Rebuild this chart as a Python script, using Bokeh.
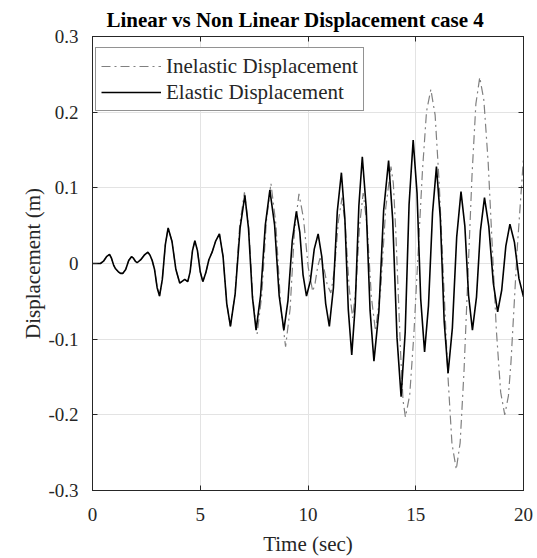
from bokeh.plotting import figure
from bokeh.models import LinearAxis, FixedTicker, Legend, LegendItem
from bokeh.embed import file_html
from bokeh.resources import INLINE

# ---- data ----
elastic_t = [0.0, 0.37, 0.51, 0.65, 0.79, 0.88, 0.98, 1.07, 1.2, 1.3, 1.41, 1.54, 1.68, 1.81,
             1.90, 1.99, 2.07, 2.24, 2.40, 2.57, 2.67, 2.77, 2.88, 3.0, 3.11, 3.24, 3.38, 3.51,
             3.69, 3.87, 4.05, 4.28, 4.42, 4.53, 4.64, 4.75, 4.87, 5.0, 5.12, 5.26, 5.40, 5.55,
             5.72, 5.89, 6.06, 6.23, 6.40, 6.62, 6.85, 7.07, 7.24, 7.42, 7.59, 7.80, 8.02, 8.23,
             8.45, 8.66, 8.88, 9.07, 9.27, 9.46, 9.62, 9.77, 9.93, 10.11, 10.29, 10.47, 10.64,
             10.82, 10.99, 11.18, 11.36, 11.55, 11.71, 11.87, 12.03, 12.19, 12.36, 12.52, 12.70,
             12.88, 13.06, 13.29, 13.51, 13.74, 13.93, 14.13, 14.32, 14.51, 14.69, 14.88, 15.06,
             15.23, 15.41, 15.59, 15.78, 15.96, 16.14, 16.32, 16.50, 16.70, 16.90, 17.10, 17.28,
             17.45, 17.63, 17.82, 18.0, 18.19, 18.39, 18.60, 18.80, 18.99, 19.18, 19.37, 19.58,
             19.79, 20.0]
elastic_v = [0.0, 0.0, 0.003, 0.009, 0.012, 0.007, -0.002, -0.007, -0.011, -0.013, -0.013, -0.008,
             0.004, 0.009, 0.007, 0.003, 0.001, 0.005, 0.011, 0.015, 0.011, 0.004, -0.008, -0.032,
             -0.043, -0.021, 0.025, 0.047, 0.029, -0.008, -0.026, -0.021, -0.024, -0.011, 0.017,
             0.030, 0.017, -0.011, -0.024, -0.012, 0.005, 0.015, 0.030, 0.039, 0.009, -0.053,
             -0.083, -0.040, 0.047, 0.090, 0.046, -0.044, -0.088, -0.042, 0.051, 0.097, 0.051,
             -0.042, -0.088, -0.049, 0.030, 0.069, 0.041, -0.015, -0.043, -0.023, 0.019, 0.039,
             0.009, -0.053, -0.083, -0.032, 0.069, 0.120, 0.060, -0.061, -0.121, -0.056, 0.076,
             0.141, 0.074, -0.062, -0.129, -0.063, 0.070, 0.136, 0.058, -0.098, -0.176, -0.091,
             0.078, 0.163, 0.093, -0.047, -0.117, -0.056, 0.067, 0.128, 0.060, -0.077, -0.145,
             -0.085, 0.035, 0.095, 0.049, -0.042, -0.088, -0.044, 0.043, 0.087, 0.049, -0.026,
             -0.064, -0.035, 0.023, 0.052, 0.028, -0.020, -0.044]

inelastic_t = [0.0, 0.37, 0.51, 0.65, 0.79, 0.88, 0.98, 1.07, 1.2, 1.3, 1.41, 1.54, 1.68, 1.81,
               1.90, 1.99, 2.07, 2.24, 2.40, 2.57, 2.67, 2.77, 2.88, 3.0, 3.11, 3.24, 3.38, 3.51,
               3.69, 3.87, 4.05, 4.28, 4.42, 4.53, 4.64, 4.75, 4.87, 5.0, 5.12, 5.26, 5.40, 5.55,
               5.72, 5.89, 6.06, 6.23, 6.40, 6.62, 6.83, 7.05, 7.25, 7.44, 7.64, 7.85, 8.07, 8.28,
               8.51, 8.73, 8.96, 9.17, 9.37, 9.58, 9.79, 10.01, 10.22, 10.33, 10.45, 10.56, 10.73,
               10.89, 11.06, 11.23, 11.41, 11.58, 11.74, 11.91, 12.07, 12.23, 12.40, 12.56, 12.75,
               12.94, 13.13, 13.37, 13.61, 13.85, 13.96, 14.07, 14.30, 14.41, 14.52, 14.72, 14.91,
               15.31, 15.50, 15.70, 15.90, 16.09, 16.49, 16.68, 16.88, 17.06, 17.24, 17.61, 17.79,
               17.97, 18.16, 18.36, 18.74, 18.94, 19.13, 19.30, 19.42, 19.71, 20.0]
inelastic_v = [0.0, 0.0, 0.003, 0.009, 0.012, 0.007, -0.002, -0.007, -0.011, -0.013, -0.013, -0.008,
               0.004, 0.009, 0.007, 0.003, 0.001, 0.005, 0.011, 0.015, 0.011, 0.004, -0.008, -0.032,
               -0.043, -0.021, 0.025, 0.047, 0.029, -0.008, -0.026, -0.021, -0.024, -0.011, 0.017,
               0.030, 0.017, -0.011, -0.024, -0.012, 0.005, 0.015, 0.030, 0.039, 0.009, -0.053,
               -0.083, -0.039, 0.050, 0.094, 0.047, -0.046, -0.093, -0.043, 0.056, 0.106, 0.052,
               -0.056, -0.110, -0.060, 0.042, 0.092, 0.060, -0.005, -0.037, -0.026, -0.004, 0.007,
               -0.005, -0.028, -0.039, -0.008, 0.056, 0.087, 0.047, -0.032, -0.072, -0.031, 0.052,
               0.093, 0.048, -0.044, -0.089, -0.035, 0.074, 0.128, 0.106, 0.045, -0.120, -0.181,
               -0.203, -0.174, -0.095, 0.122, 0.201, 0.230, 0.196, 0.105, -0.147, -0.238, -0.272,
               -0.237, -0.142, 0.116, 0.211, 0.246, 0.216, 0.134, -0.088, -0.170, -0.200, -0.175,
               -0.13, 0.02, 0.14]

x_ticks = [0, 5, 10, 15, 20]
x_tick_labels = ["0", "5", "10", "15", "20"]
y_ticks = [-0.3, -0.2, -0.1, 0, 0.1, 0.2, 0.3]
y_tick_labels = ["-0.3", "-0.2", "-0.1", "0", "0.1", "0.2", "0.3"]

FONT = "Liberation Serif"
AX = "#262626"

p = figure(width=537, height=558, x_range=(0, 20), y_range=(-0.3, 0.3),
           output_backend="svg", toolbar_location=None,
           min_border_left=92, min_border_right=14, min_border_top=35, min_border_bottom=67,
           x_axis_label="Time (sec)", y_axis_label="Displacement (m)")
p.background_fill_color = "white"
p.border_fill_color = "white"
p.outline_line_color = AX
p.outline_line_width = 1

p.title.text = "Linear vs Non Linear Displacement case 4"
p.title.text_font = FONT
p.title.text_font_size = "21px"
p.title.text_font_style = "bold"
p.title.text_color = "black"
p.title.align = "left"
p.title.offset = 14

for ax, ticks, labels in ((p.xaxis[0], x_ticks, x_tick_labels), (p.yaxis[0], y_ticks, y_tick_labels)):
    ax.ticker = FixedTicker(ticks=ticks)
    ax.major_label_overrides = {t: l for t, l in zip(ticks, labels)}
    ax.major_label_text_font = FONT
    ax.major_label_text_font_size = "19px"
    ax.major_label_text_color = AX
    ax.axis_label_text_font = FONT
    ax.axis_label_text_font_size = "21px"
    ax.axis_label_text_font_style = "normal"
    ax.axis_label_text_color = AX
    ax.axis_line_color = AX
    ax.major_tick_line_color = AX
    ax.major_tick_in = 5
    ax.major_tick_out = 0
    ax.minor_tick_line_color = None

p.xaxis.major_label_standoff = 17
p.xaxis.axis_label_standoff = 8
p.yaxis.major_label_standoff = 14
p.yaxis.axis_label_standoff = 0

# tick marks only (no labels) on the right and top edges of the box
for loc, ticks in (("right", y_ticks), ("above", x_ticks)):
    a = LinearAxis(ticker=FixedTicker(ticks=[], minor_ticks=ticks),
                   axis_line_color=AX, major_tick_line_color=None,
                   minor_tick_line_color=AX, minor_tick_in=5, minor_tick_out=0)
    p.add_layout(a, loc)

p.xgrid.ticker = FixedTicker(ticks=x_ticks)
p.ygrid.ticker = FixedTicker(ticks=y_ticks)
p.grid.grid_line_color = "#e3e3e3"
p.grid.grid_line_width = 1

r_in = p.line(inelastic_t, inelastic_v, line_color="#808080", line_width=1.2, line_dash="9 4 2 4")
r_el = p.line(elastic_t, elastic_v, line_color="black", line_width=1.6)

legend = Legend(items=[LegendItem(label="Inelastic Displacement", renderers=[r_in]),
                       LegendItem(label="Elastic Displacement", renderers=[r_el])],
                location=(3, 379))
legend.label_text_font = FONT
legend.label_text_font_size = "21px"
legend.label_text_color = AX
legend.label_height = 26
legend.glyph_height = 26
legend.border_line_color = AX
legend.border_line_width = 1
legend.glyph_width = 60
legend.label_standoff = 5
legend.padding = 5
legend.spacing = 0
legend.margin = 0
legend.background_fill_alpha = 1
p.add_layout(legend, "center")

open("out.html", "w").write(file_html(p, INLINE))
